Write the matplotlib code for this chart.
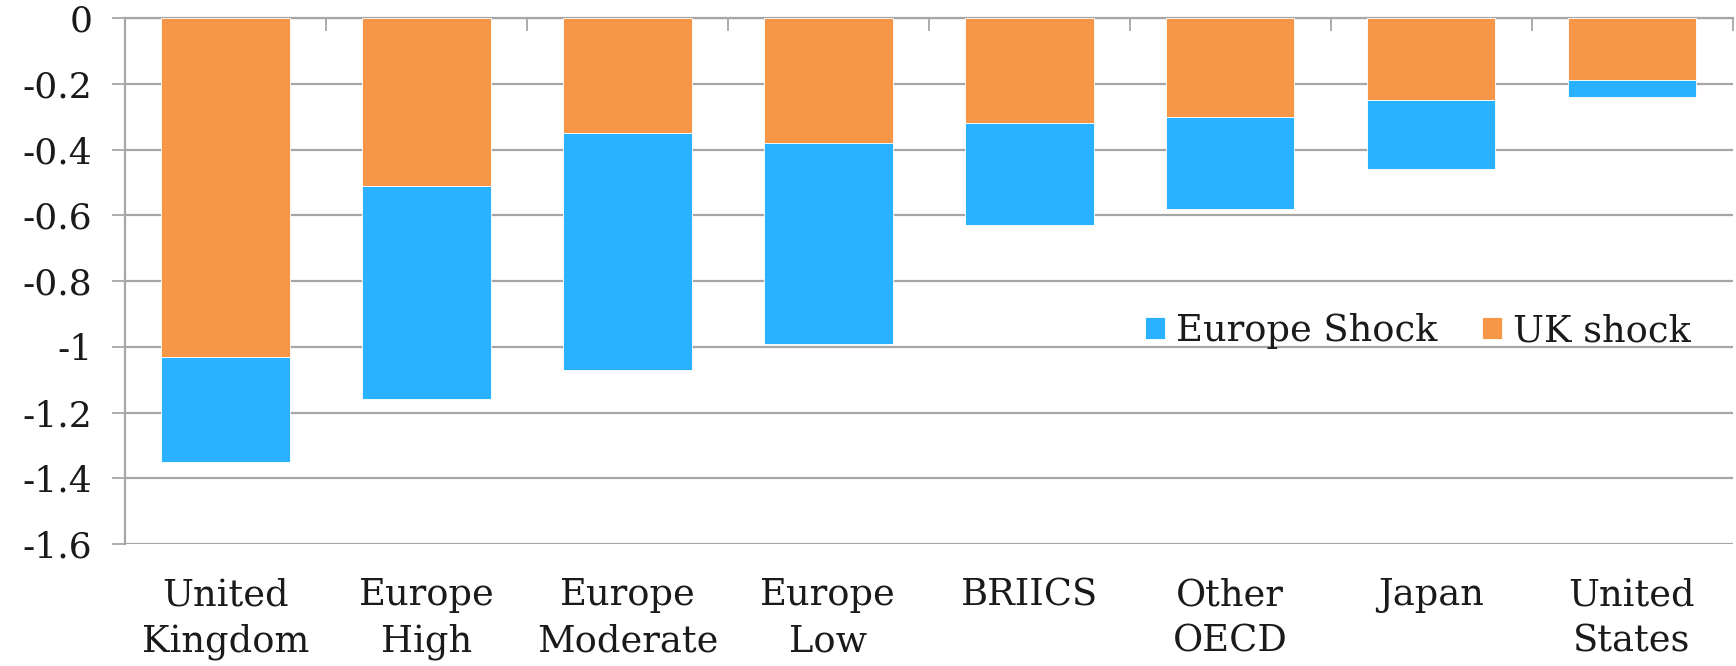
import numpy as np
import matplotlib
matplotlib.use("Agg")
import matplotlib.pyplot as plt

REGIONS = ["United\nKingdom", "Europe\nHigh", "Europe\nModerate", "Europe\nLow",
           "BRIICS", "Other\nOECD", "Japan", "United\nStates"]
UK_SHOCK = [-1.03, -0.51, -0.35, -0.38, -0.32, -0.30, -0.25, -0.19]
EUROPE_SHOCK = [-0.32, -0.65, -0.72, -0.61, -0.31, -0.28, -0.21, -0.05]
Y_TICKS = [0, -0.2, -0.4, -0.6, -0.8, -1.0, -1.2, -1.4, -1.6]
Y_LABELS = ["0", "-0.2", "-0.4", "-0.6", "-0.8", "-1", "-1.2", "-1.4", "-1.6"]

ORANGE = "#F79646"
BLUE = "#29B2FF"
GRID = "#A6A6A6"
TEXT = "#1A1A1A"

plt.rcParams.update({
    "font.family": ["DejaVu Serif"],
    "font.size": 26,
    "text.color": TEXT,
})

fig = plt.figure(figsize=(17.36, 6.66), dpi=100)
ax = fig.add_axes([0.072, 0.183, 0.926, 0.790])

x = np.arange(len(REGIONS))
width = 0.64
ax.bar(x, UK_SHOCK, width, color=ORANGE, edgecolor="white", linewidth=0.6,
       label="UK shock", zorder=3)
ax.bar(x, EUROPE_SHOCK, width, bottom=UK_SHOCK, color=BLUE, edgecolor="white",
       linewidth=0.6, label="Europe Shock", zorder=3)

ax.set_xlim(-0.5, len(REGIONS) - 0.5)
ax.set_ylim(-1.6, 0)

ax.set_yticks(Y_TICKS)
ax.set_yticklabels(Y_LABELS)
ax.yaxis.grid(True, color=GRID, linewidth=1.6, zorder=0)
ax.tick_params(axis="y", length=9.5, width=1.3, color=GRID, pad=14,
               labelsize=26, labelcolor=TEXT)

# category labels at the bottom, boundary ticks hanging from the zero line
ax.set_xticks(x)
ax.set_xticklabels(REGIONS, linespacing=1.35)
ax.tick_params(axis="x", which="major", bottom=False, top=False, length=0,
               pad=24, labelsize=26.5, labelcolor=TEXT)
ax.set_xticks(np.arange(-0.5, len(REGIONS), 1.0), minor=True)
ax.tick_params(axis="x", which="minor", bottom=False, top=True, direction="in",
               length=9.5, width=1.3, color=GRID)

for side in ["right", "bottom"]:
    ax.spines[side].set_visible(False)
for side in ["top", "left"]:
    ax.spines[side].set_color(GRID)
    ax.spines[side].set_linewidth(1.6)

handles, labels = ax.get_legend_handles_labels()
ax.legend(handles[::-1], labels[::-1], ncol=2, frameon=False,
          loc="center left", bbox_to_anchor=(0.614, 0.405),
          handlelength=0.55, handleheight=0.55, handletextpad=0.3,
          columnspacing=1.2, fontsize=26.5)

fig.savefig("out.png", dpi=100, facecolor="white")
